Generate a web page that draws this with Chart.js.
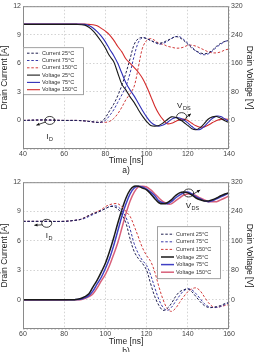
<!DOCTYPE html>
<html>
<head>
<meta charset="utf-8">
<script src="https://cdn.jsdelivr.net/npm/chart.js@4.4.1/dist/chart.umd.min.js"></script>
<style>
  html, body { margin: 0; padding: 0; background: #fff; overflow: hidden; }
  .box { position: relative; width: 254px; }
  canvas { display: block; }
</style>
</head>
<body>
<div class="box"><canvas id="chart-a" width="254" height="176"></canvas></div>
<div class="box"><canvas id="chart-b" width="254" height="181"></canvas></div>
<script>
// ---- a) turn-off ----
const timeA = [40, 50, 60, 66, 70, 72, 74, 76, 78, 80, 82, 84, 86, 88, 90, 92, 94, 96, 98, 100,
  102, 104, 106, 108, 110, 112, 114, 116, 118, 120, 122, 124, 126, 128, 130, 132, 134, 136, 138, 140];
// drain current [A]
const curA25 = [0, 0.05, 0, 0, -0.05, -0.1, -0.15, -0.2, -0.15, 0.3, 1.0, 1.7, 2.6, 3.7, 5.0, 6.5, 8.0, 8.6, 8.7, 8.6,
  8.4, 8.2, 8.1, 8.2, 8.4, 8.6, 8.8, 8.7, 8.4, 8.0, 7.6, 7.3, 7.1, 7.0, 7.1, 7.4, 7.8, 8.1, 8.3, 8.4];
const curA75 = [0, 0.05, 0, 0, -0.05, -0.1, -0.15, -0.2, -0.2, 0.0, 0.5, 1.1, 1.9, 2.7, 3.6, 5.0, 6.8, 8.2, 8.7, 8.6,
  8.4, 8.2, 8.0, 8.1, 8.3, 8.6, 8.8, 8.8, 8.5, 8.1, 7.7, 7.3, 7.0, 6.9, 7.0, 7.3, 7.7, 8.0, 8.3, 8.4];
const curA150 = [0, 0.05, 0, 0, -0.05, -0.1, -0.15, -0.2, -0.2, -0.2, -0.1, 0.2, 0.7, 1.4, 2.2, 2.8, 3.6, 5.6, 7.6, 8.4,
  8.6, 8.4, 8.1, 8.0, 7.8, 7.7, 7.6, 7.6, 7.7, 7.9, 7.9, 7.8, 7.6, 7.4, 7.2, 7.1, 7.1, 7.2, 7.4, 7.5];
// drain voltage [V]
const voltA25 = [269, 269, 269, 269, 267, 261, 251, 237, 221, 203, 181, 165, 133, 101, 85, 66, 50, 30, 12, -3,
  -14, -16, -14, -7, 2, 10, 9, 3, -5, -14, -23, -26, -20, -9, 4, 10, 11, 6, -1, -6];
const voltA75 = [270, 270, 270, 270, 269, 266, 259, 249, 236, 220, 200, 182, 160, 132, 105, 85, 68, 48, 28, 10,
  -5, -13, -16, -13, -6, 3, 8, 7, 2, -7, -17, -25, -25, -17, -5, 6, 12, 11, 4, -3];
const voltA150 = [270, 270, 270, 270, 270, 269, 268, 265, 258, 250, 240, 225, 207, 192, 172, 160, 148, 135, 118, 95,
  68, 40, 18, 2, -9, -8, -3, 2, 4, 0, -8, -15, -19, -18, -13, -6, 0, 3, 4, 3];

// ---- b) turn-on ----
const timeB = [60, 70, 80, 85, 88, 90, 92, 94, 96, 98, 100, 102, 104, 106, 108, 110, 112, 114, 116, 118,
  120, 122, 124, 126, 128, 130, 132, 134, 136, 138, 140, 142, 144, 146, 148, 150, 152, 154, 156, 158, 160];
const curB25 = [8.0, 8.0, 8.0, 8.1, 8.2, 8.4, 8.6, 8.8, 8.9, 9.1, 9.3, 9.5, 9.5, 9.3, 8.7, 7.8, 6.2, 4.9, 4.2, 3.7,
  3.0, 1.6, 0.3, -0.6, -1.1, -0.9, -0.4, 0.3, 0.8, 1.0, 1.1, 0.8, 0.3, -0.2, -0.6, -0.8, -0.8, -0.7, -0.6, -0.4, -0.3];
const curB75 = [8.0, 8.0, 8.0, 8.1, 8.2, 8.3, 8.5, 8.7, 8.9, 9.1, 9.3, 9.5, 9.6, 9.5, 9.1, 8.4, 7.2, 5.7, 4.7, 4.0,
  3.5, 2.5, 1.2, 0.0, -0.8, -1.1, -0.8, -0.2, 0.4, 0.9, 1.1, 1.0, 0.6, 0.1, -0.4, -0.7, -0.8, -0.8, -0.7, -0.5, -0.3];
const curB150 = [8.0, 8.0, 8.0, 8.1, 8.2, 8.4, 8.6, 8.8, 9.0, 9.2, 9.5, 9.7, 9.8, 9.8, 9.5, 9.0, 8.5, 7.5, 6.4, 5.3,
  4.5, 3.9, 2.8, 1.3, 0.0, -0.9, -1.2, -0.9, -0.3, 0.3, 0.8, 1.1, 1.2, 0.9, 0.3, -0.3, -0.7, -0.8, -0.7, -0.6, -0.5];
const voltB25 = [0, 0, 0, 0, 3, 8, 16, 35, 53, 75, 99, 131, 168, 208, 245, 277, 299, 309, 309, 304,
  299, 288, 275, 264, 261, 264, 272, 283, 291, 293, 291, 285, 277, 272, 269, 269, 272, 277, 283, 288, 291];
const voltB75 = [0, 0, 0, 0, 1, 5, 11, 24, 43, 61, 85, 112, 147, 187, 227, 261, 288, 304, 309, 307,
  301, 293, 283, 269, 264, 261, 267, 277, 285, 291, 293, 288, 280, 275, 269, 267, 269, 275, 280, 285, 291];
const voltB150 = [-1, -1, -1, 0, 0, 3, 8, 16, 32, 51, 69, 93, 123, 155, 195, 235, 269, 293, 307, 309,
  307, 299, 288, 277, 267, 261, 261, 269, 277, 285, 288, 288, 283, 277, 272, 267, 267, 267, 272, 277, 283];

const seriesLabels = ['Current 25°C', 'Current 75°C', 'Current 150°C', 'Voltage 25°C', 'Voltage 75°C', 'Voltage 150°C'];
const currentTicks = [-3, 0, 3, 6, 9, 12];
const voltageTicks = [-80, 0, 80, 160, 240, 320];

const FONT = '"Liberation Sans", Arial, sans-serif';

const toPoints = (xs, ys) => xs.map((x, i) => ({ x: x, y: ys[i] }));

// frame around the plot area
const framePlugin = {
  id: 'frame',
  afterDatasetsDraw(chart) {
    const a = chart.chartArea, ctx = chart.ctx;
    ctx.save();
    ctx.strokeStyle = '#8a8a8a';
    ctx.lineWidth = 1;
    ctx.strokeRect(a.left + 0.5, a.top + 0.5, a.right - a.left - 1, a.bottom - a.top - 1);
    ctx.restore();
  }
};

// legend box inside the plot
const boxLegendPlugin = {
  id: 'boxLegend',
  afterDraw(chart, args, opts) {
    const ctx = chart.ctx, a = chart.chartArea;
    const x0 = a.left + opts.dx, y0 = a.top + opts.dy;
    ctx.save();
    ctx.fillStyle = '#fff';
    ctx.strokeStyle = '#8a8a8a';
    ctx.lineWidth = 0.8;
    ctx.fillRect(x0, y0, opts.w, opts.h);
    ctx.strokeRect(x0 + 0.5, y0 + 0.5, opts.w, opts.h);
    ctx.font = '5.5px ' + FONT;
    ctx.textBaseline = 'middle';
    chart.data.datasets.forEach((ds, i) => {
      const y = y0 + opts.first + i * opts.step;
      ctx.strokeStyle = ds.borderColor;
      ctx.lineWidth = ds.borderWidth;
      ctx.setLineDash(ds.borderDash || []);
      ctx.beginPath();
      ctx.moveTo(x0 + 4, y);
      ctx.lineTo(x0 + 17, y);
      ctx.stroke();
      ctx.setLineDash([]);
      ctx.fillStyle = '#333';
      ctx.fillText(ds.label, x0 + 19, y);
    });
    ctx.restore();
  }
};

// I_D / V_DS markers: ellipse, arrow and label, placed in data units
const markerPlugin = {
  id: 'markers',
  afterDatasetsDraw(chart, args, opts) {
    const ctx = chart.ctx, sx = chart.scales.x, sy = chart.scales.y;
    ctx.save();
    (opts.items || []).forEach(m => {
      const cx = sx.getPixelForValue(m.at[0]), cy = sy.getPixelForValue(m.at[1]);
      ctx.strokeStyle = '#111';
      ctx.lineWidth = 0.8;
      ctx.beginPath();
      ctx.ellipse(cx, cy, 5, 4, 0, 0, Math.PI * 2);
      ctx.stroke();
      const ax = sx.getPixelForValue(m.arrow[0]), ay = sy.getPixelForValue(m.arrow[1]);
      const bx = cx + m.dir * 4, by = cy + 1.5;
      ctx.beginPath();
      ctx.moveTo(bx, by);
      ctx.lineTo(ax, ay);
      ctx.stroke();
      const ang = Math.atan2(ay - by, ax - bx);
      ctx.fillStyle = '#111';
      ctx.beginPath();
      ctx.moveTo(ax, ay);
      ctx.lineTo(ax - 3.5 * Math.cos(ang - 0.45), ay - 3.5 * Math.sin(ang - 0.45));
      ctx.lineTo(ax - 3.5 * Math.cos(ang + 0.45), ay - 3.5 * Math.sin(ang + 0.45));
      ctx.closePath();
      ctx.fill();
      const lx = sx.getPixelForValue(m.label[0]), ly = sy.getPixelForValue(m.label[1]);
      ctx.fillStyle = '#222';
      ctx.textBaseline = 'middle';
      ctx.textAlign = 'left';
      ctx.font = '8px ' + FONT;
      ctx.fillText(m.main, lx, ly);
      const w = ctx.measureText(m.main).width;
      ctx.font = '5.5px ' + FONT;
      ctx.fillText(m.sub, lx + w + 0.5, ly + 2.5);
    });
    ctx.restore();
  }
};

function makeDatasets(times, cur, volt, solidColors, solidWidth) {
  const dashColors = ['#1f1f4f', '#3a3aa8', '#d23c3c'];
  const ds = [];
  cur.forEach((vals, i) => ds.push({
    label: seriesLabels[i], data: toPoints(times, vals), yAxisID: 'y',
    borderColor: dashColors[i], borderWidth: 1, borderDash: [2.5, 1.8],
    pointRadius: 0, tension: 0.35, fill: false
  }));
  volt.forEach((vals, i) => ds.push({
    label: seriesLabels[i + 3], data: toPoints(times, vals), yAxisID: 'y1',
    borderColor: solidColors[i], borderWidth: solidWidth,
    pointRadius: 0, tension: 0.35, fill: false
  }));
  return ds;
}

function makeOptions(xmin, xmax, xHeight, titleLines, legend, markers) {
  const tickFont = { family: FONT, size: 7 };
  const titleFont = { family: FONT, size: 8.5 };
  return {
    responsive: false,
    animation: false,
    layout: { padding: { top: 4, left: 0, right: 0, bottom: 0 } },
    plugins: {
      legend: { display: false },
      tooltip: { enabled: false },
      boxLegend: legend,
      markers: { items: markers }
    },
    scales: {
      x: {
        type: 'linear', min: xmin, max: xmax,
        ticks: { stepSize: 20, font: tickFont, color: '#444', padding: 1, maxRotation: 0 },
        grid: { color: '#c8c8c8', drawTicks: false, lineWidth: 0.8 },
        border: { display: false, dash: [1.5, 2] },
        title: { display: true, text: titleLines, font: titleFont, color: '#222', padding: { top: 0, bottom: 0 } },
        afterFit: s => { s.height = xHeight; }
      },
      y: {
        position: 'left', min: currentTicks[0], max: currentTicks[currentTicks.length - 1],
        afterBuildTicks: s => { s.ticks = currentTicks.map(v => ({ value: v })); },
        ticks: { font: tickFont, color: '#444', padding: 2, callback: v => (v === currentTicks[0] ? '' : v) },
        grid: { color: '#c8c8c8', drawTicks: false, lineWidth: 0.8 },
        border: { display: false, dash: [1.5, 2] },
        title: { display: true, text: 'Drain Current [A]', font: titleFont, color: '#222', padding: { top: 0, bottom: 0 } },
        afterFit: s => { s.width = 23; }
      },
      y1: {
        position: 'right', min: voltageTicks[0], max: voltageTicks[voltageTicks.length - 1],
        afterBuildTicks: s => { s.ticks = voltageTicks.map(v => ({ value: v })); },
        ticks: { font: tickFont, color: '#444', padding: 2, callback: v => (v === voltageTicks[0] ? '' : v) },
        grid: { display: false, drawTicks: false },
        border: { display: false },
        title: { display: true, text: 'Drain Voltage [V]', font: titleFont, color: '#222', padding: { top: 0, bottom: 0 } },
        afterFit: s => { s.width = 25; }
      }
    }
  };
}

Chart.defaults.font.family = FONT;

new Chart(document.getElementById('chart-a'), {
  type: 'line',
  data: {
    datasets: makeDatasets(timeA, [curA25, curA75, curA150], [voltA25, voltA75, voltA150],
      ['#1a1a1a', '#2f2fb8', '#d42c2c'], 1.1)
  },
  options: makeOptions(40, 140, 27, ['Time [ns]', 'a)'],
    { dx: 0, dy: 41, w: 60, h: 47, first: 6, step: 7.3 },
    [
      { at: [53, 0], arrow: [46.5, -0.5], dir: -1, label: [51.3, -1.7], main: 'I', sub: 'D' },
      { at: [117, 0.4], arrow: [121.5, 0.7], dir: 1, label: [114.8, 1.5], main: 'V', sub: 'DS' }
    ]),
  plugins: [framePlugin, markerPlugin, boxLegendPlugin]
});

new Chart(document.getElementById('chart-b'), {
  type: 'line',
  data: {
    datasets: makeDatasets(timeB, [curB25, curB75, curB150], [voltB25, voltB75, voltB150],
      ['#1a1a1a', '#3f3fc4', '#d8607a'], 1.5)
  },
  options: makeOptions(60, 160, 28, ['Time [ns]', 'b)'],
    { dx: 134, dy: 44, w: 63, h: 52, first: 8, step: 7.6 },
    [
      { at: [71.5, 7.8], arrow: [65.5, 7.6], dir: -1, label: [71, 6.5], main: 'I', sub: 'D' },
      { at: [140.4, 10.9], arrow: [146, 11.2], dir: 1, label: [139, 9.6], main: 'V', sub: 'DS' }
    ]),
  plugins: [framePlugin, markerPlugin, boxLegendPlugin]
});
</script>
</body>
</html>
